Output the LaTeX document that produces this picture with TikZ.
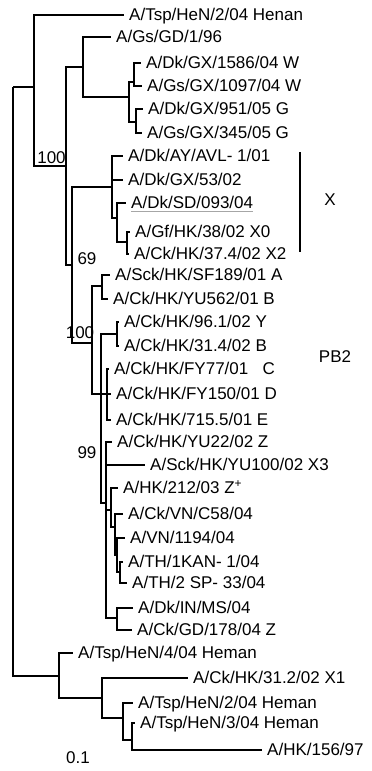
\documentclass[tikz,border=0pt]{standalone}
\usepackage{fontspec}
\setmainfont{Liberation Sans}
\usepackage{tikz}

\tikzset{
  leaf/.style={anchor=west, inner xsep=5pt, inner ysep=0pt, text height=11.7pt, text depth=0pt, font=\fontsize{17}{17}\selectfont},
  support/.style={inner sep=0pt, font=\fontsize{17}{17}\selectfont},
  branch/.style={line width=1.8pt},
}

\begin{document}
\begin{tikzpicture}[x=1pt,y=-1pt]
    \useasboundingbox (0,0) rectangle (372,771);
    % Internal nodes (x = branch depth, y = join)
    \coordinate (root) at (13,87);
    \coordinate (A) at (34,87);
    \coordinate (B) at (66,166);
    \coordinate (GDc) at (83,67);
    \coordinate (GXc) at (129,97);
    \coordinate (Wc) at (134,82);
    \coordinate (Gc) at (136,122);
    \coordinate (C) at (72,265);
    \coordinate (Xc) at (112,187);
    \coordinate (SDc) at (117,218);
    \coordinate (X0c) at (127,242);
    \coordinate (D) at (92,343);
    \coordinate (E) at (102,286);
    \coordinate (F) at (107,394);
    \coordinate (H) at (101,394);
    \coordinate (G) at (117,334);
    \coordinate (I) at (106,503);
    \coordinate (J) at (111,510);
    \coordinate (L) at (115,527);
    \coordinate (M) at (117,555);
    \coordinate (THc) at (120,572);
    \coordinate (K) at (117,618);
    \coordinate (Q) at (59,676);
    \coordinate (P) at (102,698);
    \coordinate (O) at (123,718);
    \coordinate (N) at (132,740);

    % Leaves
    \node[leaf] (henan2) at (124,15) {A/Tsp/HeN/2/04 Henan};
    \node[leaf] (gd196) at (111,37) {A/Gs/GD/1/96};
    \node[leaf] (gx1586) at (141,63) {A/Dk/GX/1586/04 W};
    \node[leaf] (gx1097) at (142,86) {A/Gs/GX/1097/04 W};
    \node[leaf] (gx951) at (143,109) {A/Dk/GX/951/05 G};
    \node[leaf] (gx345) at (142,133) {A/Gs/GX/345/05 G};
    \node[leaf] (avl) at (123,156) {A/Dk/AY/AVL- 1/01};
    \node[leaf] (gx53) at (123,180) {A/Dk/GX/53/02};
    \node[leaf] (sd093) at (126,203) {A/Dk/SD/093/04};
    \node[leaf] (x0) at (130,232) {A/Gf/HK/38/02 X0};
    \node[leaf] (x2) at (129,254) {A/Ck/HK/37.4/02 X2};
    \node[leaf] (sf189) at (110,275) {A/Sck/HK/SF189/01 A};
    \node[leaf] (yu562) at (108,299) {A/Ck/HK/YU562/01 B};
    \node[leaf] (hk961) at (119,322) {A/Ck/HK/96.1/02 Y};
    \node[leaf] (hk314) at (119,346) {A/Ck/HK/31.4/02 B};
    \node[leaf] (fy77) at (109,369) {A/Ck/HK/FY77/01\ \ \ C};
    \node[leaf] (fy150) at (111,394) {A/Ck/HK/FY150/01 D};
    \node[leaf] (hk7155) at (111,420) {A/Ck/HK/715.5/01 E};
    \node[leaf] (yu22) at (112,442) {A/Ck/HK/YU22/02 Z};
    \node[leaf] (yu100) at (145,465) {A/Sck/HK/YU100/02 X3};
    \node[leaf] (hk212) at (118,488) {A/HK/212/03 Z\textsuperscript{+}};
    \node[leaf] (c58) at (123,514) {A/Ck/VN/C58/04};
    \node[leaf] (vn1194) at (125,538) {A/VN/1194/04};
    \node[leaf] (th1kan) at (123,562) {A/TH/1KAN- 1/04};
    \node[leaf] (th2sp) at (127,583) {A/TH/2 SP- 33/04};
    \node[leaf] (inms) at (133,608) {A/Dk/IN/MS/04};
    \node[leaf] (gd178) at (132,630) {A/Ck/GD/178/04 Z};
    \node[leaf] (heman4) at (73,653) {A/Tsp/HeN/4/04 Heman};
    \node[leaf] (x1) at (188,678) {A/Ck/HK/31.2/02 X1};
    \node[leaf] (heman2) at (133,703) {A/Tsp/HeN/2/04 Heman};
    \node[leaf] (heman3) at (135,723) {A/Tsp/HeN/3/04 Heman};
    \node[leaf] (hk156) at (262,750) {A/HK/156/97};

    % Branches
    \draw[branch] (root) |- (A) (root) |- (Q);
    \draw[branch] (A) |- (henan2.west) (A) |- (B);
    \draw[branch] (B) |- (GDc) (B) |- (C);
    \draw[branch] (GDc) |- (gd196.west) (GDc) |- (GXc);
    \draw[branch] (GXc) |- (Wc) (GXc) |- (Gc);
    \draw[branch] (Wc) |- (gx1586.west) (Wc) |- (gx1097.west);
    \draw[branch] (Gc) |- (gx951.west) (Gc) |- (gx345.west);
    \draw[branch] (C) |- (Xc) (C) |- (D);
    \draw[branch] (Xc) |- (avl.west) (Xc) |- (gx53.west) (Xc) |- (SDc);
    \draw[branch] (SDc) |- (sd093.west) (SDc) |- (X0c);
    \draw[branch] (X0c) |- (x0.west) (X0c) |- (x2.west);
    \draw[branch] (D) |- (E) (D) |- (F) (D) |- (H);
    \draw[branch] (E) |- (sf189.west) (E) |- (yu562.west);
    \draw[branch] (F) |- (fy77.west) (F) |- (fy150.west) (F) |- (hk7155.west);
    \draw[branch] (H) |- (G) (H) |- (I);
    \draw[branch] (G) |- (hk961.west) (G) |- (hk314.west);
    \draw[branch] (I) |- (yu22.west) (I) |- (yu100.west) (I) |- (J) (I) |- (K);
    \draw[branch] (J) |- (hk212.west) (J) |- (L);
    \draw[branch] (L) |- (c58.west) (L) |- (M);
    \draw[branch] (M) |- (vn1194.west) (M) |- (THc);
    \draw[branch] (THc) |- (th1kan.west) (THc) |- (th2sp.west);
    \draw[branch] (K) |- (inms.west) (K) |- (gd178.west);
    \draw[branch] (Q) |- (heman4.west) (Q) |- (P);
    \draw[branch] (P) |- (x1.west) (P) |- (O);
    \draw[branch] (O) |- (heman2.west) (O) |- (N);
    \draw[branch] (N) |- (heman3.west) (N) |- (hk156.west);

    % Underlined strain
    \draw[gray!70, line width=1.2pt] ([xshift=5pt,yshift=-2.5pt]sd093.south west) -- ([xshift=-5pt,yshift=-2.5pt]sd093.south east);

    % Support values
    \node[support] (bsA) at (51.5,158) {100};
    \node[support] (bsC) at (87,259) {69};
    \node[support] (bsD) at (80,333) {100};
    \node[support] (bsI) at (87,453) {99};

    % Lineage bar and labels
    \coordinate (xtop) at (300,152);
    \coordinate (xbot) at (300,252);
    \draw[branch] (xtop) -- (xbot);
    \node[support] (xlab) at (330,200) {X};
    \node[support] (pb2) at (335,357) {PB2};
    \node[support] (scale) at (78,758) {0.1};
\end{tikzpicture}
\end{document}
